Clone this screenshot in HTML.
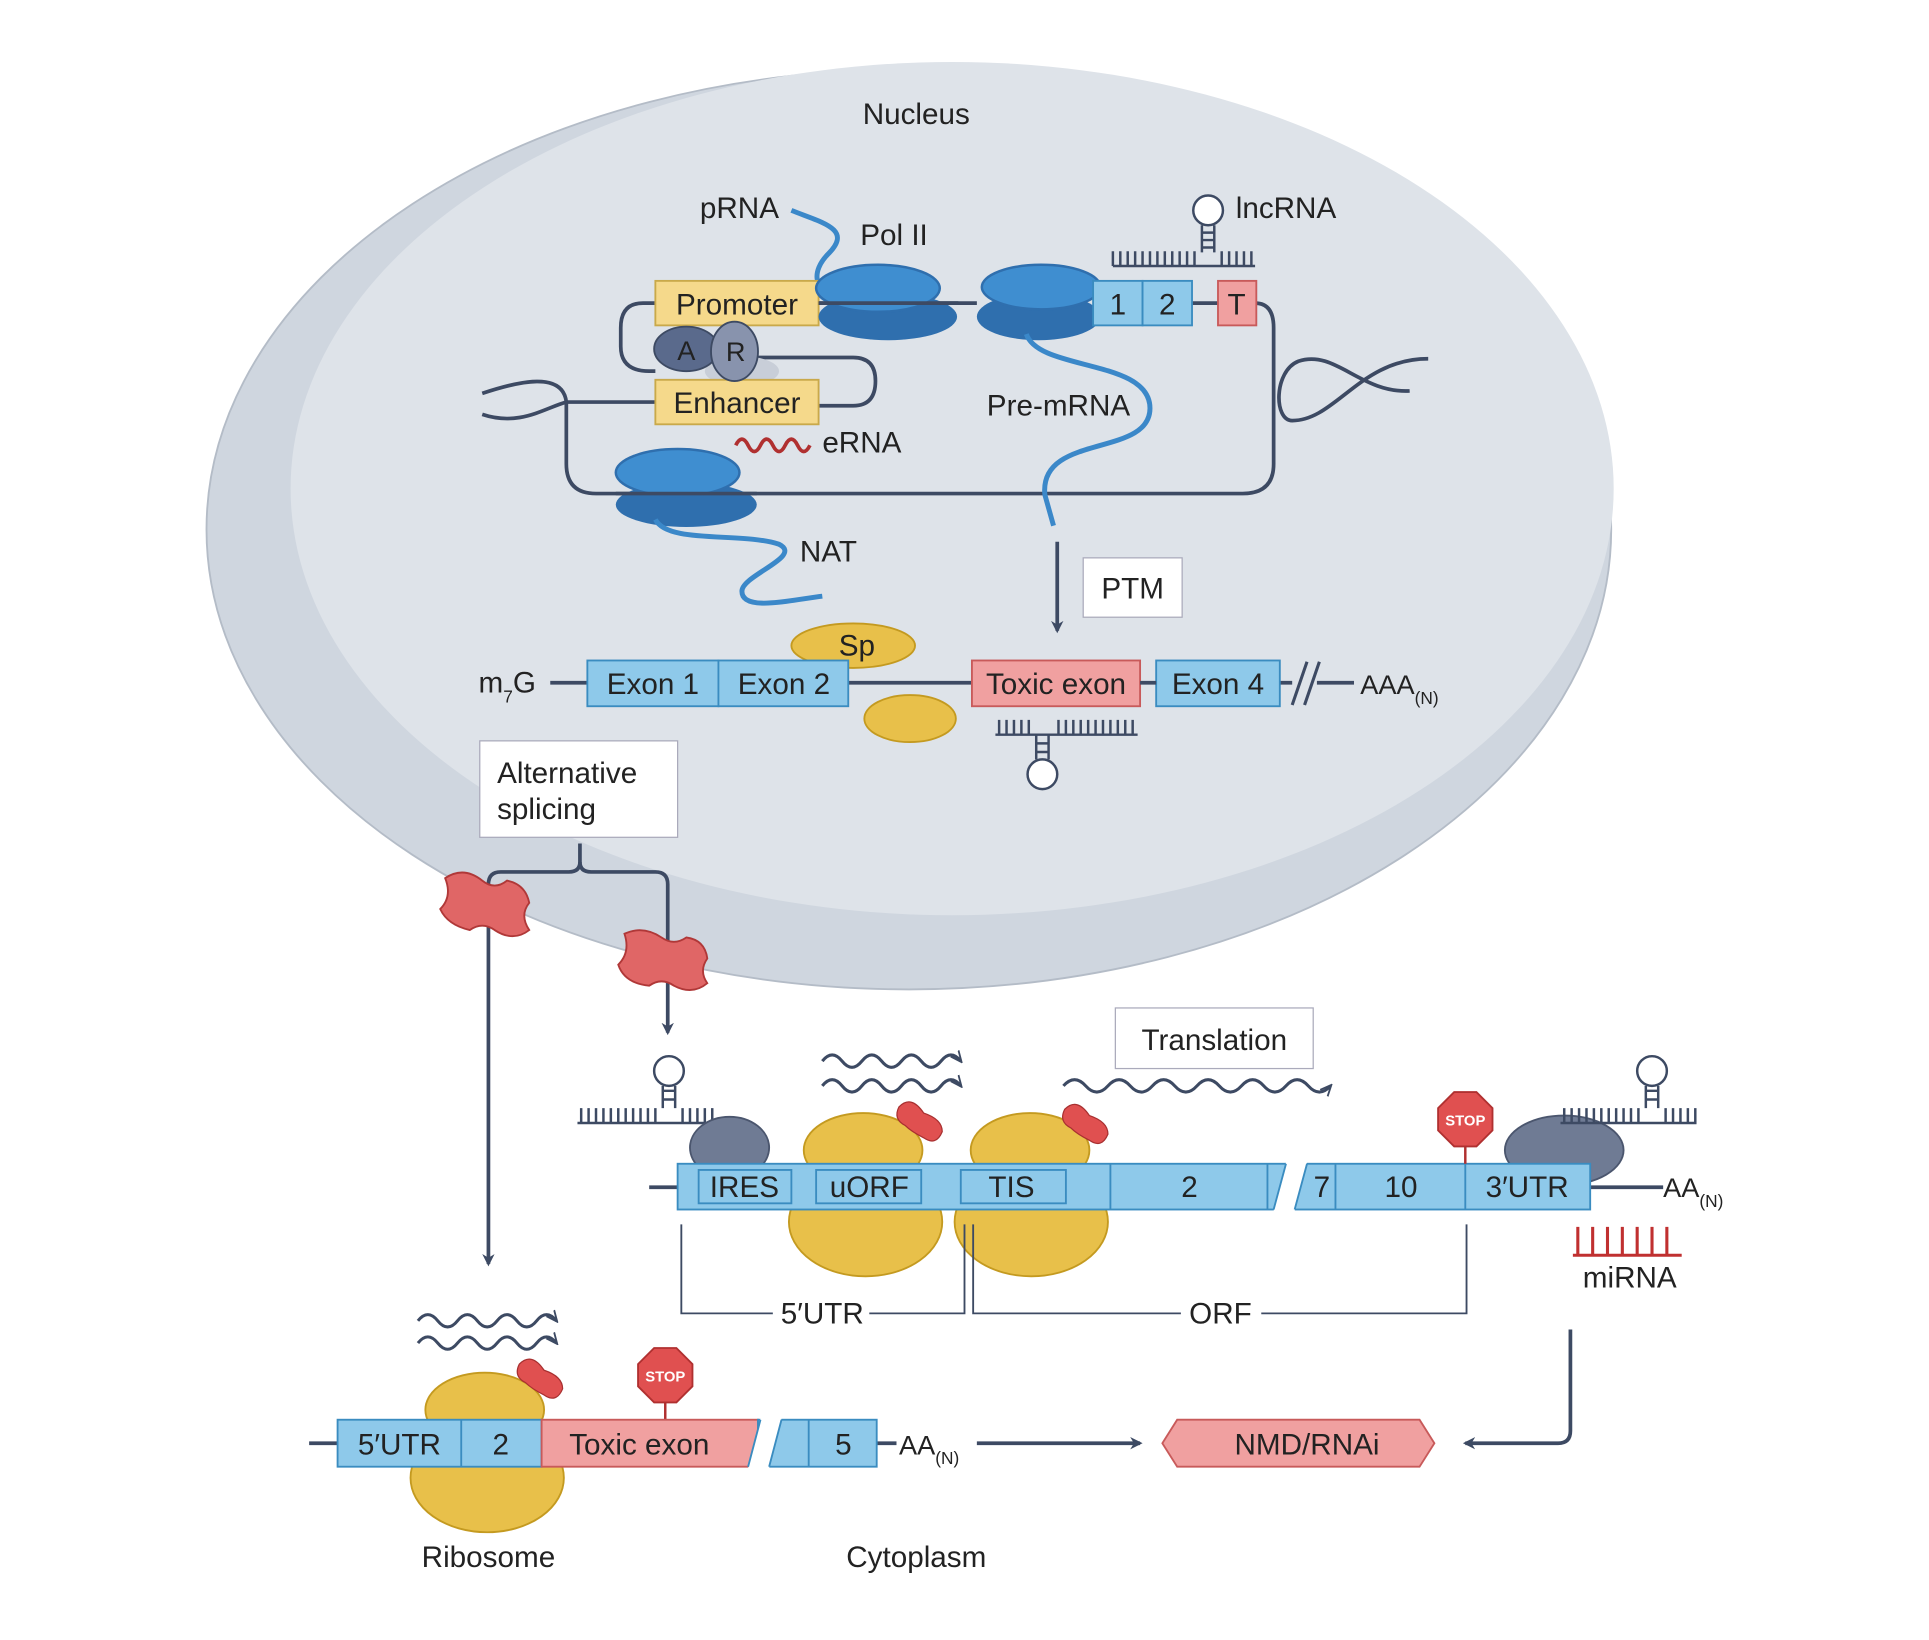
<!DOCTYPE html>
<html><head><meta charset="utf-8"><style>
html,body{margin:0;padding:0;background:#fff;}
svg{display:block;}
text{font-family:"Liberation Sans",sans-serif;fill:#222;}
</style></head><body>
<svg width="1929" height="1640" viewBox="0 0 1560 1326" xmlns="http://www.w3.org/2000/svg">
<defs>
<marker id="ar" markerWidth="10" markerHeight="10" refX="8" refY="5" orient="auto" markerUnits="userSpaceOnUse"><path d="M0,0 L10,5 L0,10 L3,5 Z" fill="#3d4a63"/></marker>
<marker id="ar2" markerWidth="10" markerHeight="10" refX="8" refY="5" orient="auto" markerUnits="userSpaceOnUse"><path d="M0,1 L9,5 L0,9" fill="none" stroke="#3d4a63" stroke-width="1.5"/></marker>
</defs>
<!-- nucleus -->
<ellipse cx="735" cy="428" rx="568" ry="372" fill="#cfd6df" stroke="#b4bcc7" stroke-width="1.5"/>
<ellipse cx="770" cy="395" rx="535" ry="345" fill="#dee3e9"/>
<text x="741" y="100" font-size="24" text-anchor="middle">Nucleus</text>

<!-- DNA loops -->
<g fill="none" stroke="#3d4a63" stroke-width="3">
<path d="M390,318 C420,308 455,300 458,325 L458,375 Q458,399 482,399 L1005,399 Q1030,399 1030,375 L1030,265 Q1030,245 1015,245"/>
<path d="M390,335 C420,345 440,330 458,325 L530,325"/>
<path d="M662,245 L790,245 M964,245 L985,245"/>
<path d="M530,245 L520,245 Q502,245 502,265 L502,280 Q502,300 525,300 L530,300"/>
<path d="M612,289 L690,289 Q708,289 708,308 Q708,328 690,328 L662,328"/>
<path d="M1155,290 C1100,290 1080,340 1045,340 C1030,340 1030,300 1050,292 C1080,282 1100,318 1140,316"/>
</g>
<!-- pRNA -->
<path d="M640,170 C665,180 690,185 670,205 C655,220 660,235 672,235" fill="none" stroke="#3b88c9" stroke-width="4"/>
<text x="598" y="176" font-size="24" text-anchor="middle">pRNA</text>
<text x="723" y="198" font-size="24" text-anchor="middle">Pol II</text>
<!-- promoter / enhancer -->
<rect x="530" y="227" width="132" height="36" fill="#f5d98b" stroke="#c9a94a" stroke-width="1.5"/>
<text x="596" y="254" font-size="24" text-anchor="middle">Promoter</text>
<ellipse cx="600" cy="300" rx="30" ry="12" fill="#c8ced8"/>
<rect x="530" y="307" width="132" height="36" fill="#f5d98b" stroke="#c9a94a" stroke-width="1.5"/>
<text x="596" y="334" font-size="24" text-anchor="middle">Enhancer</text>
<ellipse cx="555" cy="282" rx="26" ry="18" fill="#5a6a8c" stroke="#3d4a63" stroke-width="1.5"/>
<ellipse cx="594" cy="284" rx="19" ry="24" fill="#8893ad" stroke="#3d4a63" stroke-width="1.5"/>
<text x="555" y="291" font-size="22" text-anchor="middle">A</text>
<text x="595" y="292" font-size="22" text-anchor="middle">R</text>
<!-- Pol II blobs -->
<g>
<ellipse cx="718" cy="256" rx="56" ry="19" fill="#2f6fae"/><ellipse cx="710" cy="233" rx="50" ry="19" fill="#3f8ed0" stroke="#2f6fae" stroke-width="2"/>
<ellipse cx="840" cy="256" rx="50" ry="19" fill="#2f6fae"/><ellipse cx="842" cy="232" rx="48" ry="18" fill="#3f8ed0" stroke="#2f6fae" stroke-width="2"/>
<ellipse cx="555" cy="408" rx="57" ry="18" fill="#2f6fae"/><ellipse cx="548" cy="382" rx="50" ry="19" fill="#3f8ed0" stroke="#2f6fae" stroke-width="2"/>
</g>
<path d="M498,399 L612,399" stroke="#3d4a63" stroke-width="3"/>
<path d="M662,245 L775,245" stroke="#3d4a63" stroke-width="3"/>
<!-- exon 1 2 T -->
<rect x="884" y="227" width="40" height="36" fill="#8ec9ea" stroke="#3a8cc0" stroke-width="1.5"/>
<rect x="924" y="227" width="40" height="36" fill="#8ec9ea" stroke="#3a8cc0" stroke-width="1.5"/>
<rect x="985" y="227" width="31" height="36" fill="#f0a0a0" stroke="#c85a5a" stroke-width="1.5"/>
<text x="904" y="254" font-size="24" text-anchor="middle">1</text>
<text x="944" y="254" font-size="24" text-anchor="middle">2</text>
<text x="1000" y="254" font-size="24" text-anchor="middle">T</text>
<!-- lncRNA -->
<path d="M900,215 h115 M900,203v12 M906,203v12 M912,203v12 M918,203v12 M924,203v12 M930,203v12 M936,203v12 M942,203v12 M948,203v12 M954,203v12 M960,203v12 M966,203v12 M988,203v12 M994,203v12 M1000,203v12 M1006,203v12 M1012,203v12" stroke="#3d4a63" stroke-width="2"/>
<path d="M972,204 v-22 M982,204 v-22 M972,188h10M972,194h10M972,200h10" stroke="#3d4a63" stroke-width="2"/>
<circle cx="977" cy="170" r="12" fill="#fff" stroke="#3d4a63" stroke-width="2"/>
<text x="1040" y="176" font-size="24" text-anchor="middle">lncRNA</text>
<!-- Pre-mRNA -->
<path d="M830,270 C840,300 930,290 930,330 C930,370 840,350 845,400 L852,425" fill="none" stroke="#3b88c9" stroke-width="4"/>
<text x="856" y="336" font-size="24" text-anchor="middle">Pre-mRNA</text>
<!-- eRNA -->
<path d="M595,360 q5,-10 10,0 q5,10 10,0 q5,-10 10,0 q5,10 10,0 q5,-10 10,0 q5,10 10,0" fill="none" stroke="#b03030" stroke-width="3"/>
<text x="697" y="366" font-size="24" text-anchor="middle">eRNA</text>
<!-- NAT -->
<path d="M530,420 C540,440 600,430 630,440 C650,450 600,465 600,478 C600,495 640,485 665,482" fill="none" stroke="#3b88c9" stroke-width="4"/>
<text x="670" y="454" font-size="24" text-anchor="middle">NAT</text>
<!-- PTM -->
<path d="M855,438 L855,510" stroke="#3d4a63" stroke-width="3" marker-end="url(#ar)"/>
<rect x="876" y="451" width="80" height="48" fill="#fff" stroke="#aab"/>
<text x="916" y="484" font-size="24" text-anchor="middle">PTM</text>
<!-- middle row -->
<text x="387" y="560" font-size="24">m<tspan font-size="14" dy="8">7</tspan><tspan dy="-8">G</tspan></text>
<path d="M445,552 H475 M686,552 H786 M1035,552 H1095" stroke="#3d4a63" stroke-width="3"/>
<ellipse cx="690" cy="522" rx="50" ry="18" fill="#e8c04a" stroke="#c49a20" stroke-width="1.5"/>
<text x="693" y="530" font-size="24" text-anchor="middle">Sp</text>
<ellipse cx="736" cy="581" rx="37" ry="19" fill="#e8c04a" stroke="#c49a20" stroke-width="1.5"/>
<rect x="475" y="534" width="106" height="37" fill="#8ec9ea" stroke="#3a8cc0" stroke-width="1.5"/>
<rect x="581" y="534" width="105" height="37" fill="#8ec9ea" stroke="#3a8cc0" stroke-width="1.5"/>
<rect x="786" y="534" width="136" height="37" fill="#f0a0a0" stroke="#c85a5a" stroke-width="1.5"/>
<rect x="935" y="534" width="100" height="37" fill="#8ec9ea" stroke="#3a8cc0" stroke-width="1.5"/>
<path d="M922,552H935" stroke="#3d4a63" stroke-width="3"/>
<text x="528" y="561" font-size="24" text-anchor="middle">Exon 1</text>
<text x="634" y="561" font-size="24" text-anchor="middle">Exon 2</text>
<text x="854" y="561" font-size="24" text-anchor="middle">Toxic exon</text>
<text x="985" y="561" font-size="24" text-anchor="middle">Exon 4</text>
<rect x="1045" y="535" width="20" height="34" fill="#dee3e9"/>
<path d="M1045,570 L1057,535 M1055,570 L1067,535" stroke="#3d4a63" stroke-width="2.5"/>
<text x="1100" y="561" font-size="22" font-family="Liberation Serif">AAA<tspan font-size="14" dy="8" font-family="Liberation Sans">(N)</tspan></text>
<!-- hairpin under toxic -->
<path d="M805,594 h115 M808,582v12 M814,582v12 M820,582v12 M826,582v12 M832,582v12 M856,582v12 M862,582v12 M868,582v12 M874,582v12 M880,582v12 M886,582v12 M892,582v12 M898,582v12 M904,582v12 M910,582v12 M916,582v12" stroke="#3d4a63" stroke-width="2"/>
<path d="M838,594 v20 M848,594 v20 M838,601h10M838,608h10" stroke="#3d4a63" stroke-width="2"/>
<circle cx="843" cy="626" r="12" fill="#fff" stroke="#3d4a63" stroke-width="2"/>
<!-- alternative splicing -->
<rect x="388" y="599" width="160" height="78" fill="#fff" stroke="#aab"/>
<text x="402" y="633" font-size="24">Alternative</text>
<text x="402" y="662" font-size="24">splicing</text>
<path d="M469,682 L469,697 Q469,705 460,705 L405,705 Q395,705 395,715 L395,1022" fill="none" stroke="#3d4a63" stroke-width="3" marker-end="url(#ar)"/>
<path d="M469,697 Q469,705 478,705 L530,705 Q540,705 540,715 L540,835" fill="none" stroke="#3d4a63" stroke-width="3" marker-end="url(#ar)"/>
<!-- pores -->
<g fill="#e06666" stroke="#b03838" stroke-width="1.5">
<path d="M360,710 Q375,700 390,712 Q400,720 410,712 Q425,715 428,730 Q420,740 428,752 Q415,762 400,752 Q390,745 380,752 Q362,748 356,735 Q366,725 360,710Z" />
<path d="M505,755 Q520,748 535,758 Q545,765 555,758 Q570,760 572,775 Q565,785 572,795 Q560,805 545,797 Q535,790 525,797 Q505,795 500,780 Q510,770 505,755Z"/>
</g>
<!-- translation -->
<rect x="902" y="815" width="160" height="49" fill="#fff" stroke="#aab"/>
<text x="982" y="849" font-size="24" text-anchor="middle">Translation</text>
<g fill="none" stroke="#3d4a63" stroke-width="2.5">
<path d="M665,858 q8,-10 16,0 q8,10 16,0 q8,-10 16,0 q8,10 16,0 q8,-10 16,0 q8,10 16,0 q8,-10 16,0" marker-end="url(#ar2)"/>
<path d="M665,878 q8,-10 16,0 q8,10 16,0 q8,-10 16,0 q8,10 16,0 q8,-10 16,0 q8,10 16,0 q8,-10 16,0" marker-end="url(#ar2)"/>
<path d="M860,878 q9,-10 18,0 q9,10 18,0 q9,-10 18,0 q9,10 18,0 q9,-10 18,0 q9,10 18,0 q9,-10 18,0 q9,10 18,0 q9,-10 18,0 q9,10 18,0 q9,-10 18,0 q9,10 18,0" marker-end="url(#ar2)"/>
<path d="M338,1068 q8,-10 16,0 q8,10 16,0 q8,-10 16,0 q8,10 16,0 q8,-10 16,0 q8,10 16,0 q8,-10 16,0" marker-end="url(#ar2)"/>
<path d="M338,1086 q8,-10 16,0 q8,10 16,0 q8,-10 16,0 q8,10 16,0 q8,-10 16,0 q8,10 16,0 q8,-10 16,0" marker-end="url(#ar2)"/>
</g>
<!-- hairpins translation -->
<path d="M467,908 h110 M470,896v12 M476,896v12 M482,896v12 M488,896v12 M494,896v12 M500,896v12 M506,896v12 M512,896v12 M518,896v12 M524,896v12 M530,896v12 M552,896v12 M558,896v12 M564,896v12 M570,896v12 M576,896v12" stroke="#3d4a63" stroke-width="2"/>
<path d="M536,896 v-18 M546,896 v-18 M536,882h10M536,889h10" stroke="#3d4a63" stroke-width="2"/>
<circle cx="541" cy="866" r="12" fill="#fff" stroke="#3d4a63" stroke-width="2"/>
<ellipse cx="590" cy="928" rx="32" ry="25" fill="#6f7b94" stroke="#4b566e" stroke-width="1.5"/>
<ellipse cx="1265" cy="930" rx="48" ry="28" fill="#6f7b94" stroke="#4b566e" stroke-width="1.5"/>
<path d="M1262,908 h110 M1265,896v12 M1271,896v12 M1277,896v12 M1283,896v12 M1289,896v12 M1295,896v12 M1301,896v12 M1307,896v12 M1313,896v12 M1319,896v12 M1325,896v12 M1347,896v12 M1353,896v12 M1359,896v12 M1365,896v12 M1371,896v12" stroke="#3d4a63" stroke-width="2"/>
<path d="M1331,896 v-18 M1341,896 v-18 M1331,882h10M1331,889h10" stroke="#3d4a63" stroke-width="2"/>
<circle cx="1336" cy="866" r="12" fill="#fff" stroke="#3d4a63" stroke-width="2"/>
<!-- ribosomes top -->
<g stroke="#c49a20" stroke-width="1.5" fill="#e8c04a">
<ellipse cx="700" cy="988" rx="62" ry="44"/><ellipse cx="698" cy="930" rx="48" ry="30"/>
<ellipse cx="834" cy="988" rx="62" ry="44"/><ellipse cx="833" cy="930" rx="48" ry="30"/>
<ellipse cx="394" cy="1195" rx="62" ry="44"/><ellipse cx="392" cy="1140" rx="48" ry="30"/>
</g>
<g fill="#e05050" stroke="#a83030" stroke-width="1">
<path d="M727,895 q10,-10 20,5 q15,5 15,15 q-5,12 -15,5 q-10,-5 -15,-10 q-10,-5 -5,-15z"/>
<path d="M861,897 q10,-10 20,5 q15,5 15,15 q-5,12 -15,5 q-10,-5 -15,-10 q-10,-5 -5,-15z"/>
<path d="M420,1103 q10,-10 20,5 q15,5 15,15 q-5,12 -15,5 q-10,-5 -15,-10 q-10,-5 -5,-15z"/>
</g>
<!-- mRNA row -->
<path d="M525,960 H548 M1286,960 H1345" stroke="#3d4a63" stroke-width="3"/>
<rect x="548" y="941" width="738" height="37" fill="#8ec9ea" stroke="#3a8cc0" stroke-width="1.5"/>
<rect x="565" y="946" width="75" height="27" fill="none" stroke="#3a8cc0" stroke-width="1.5"/>
<rect x="660" y="946" width="85" height="27" fill="none" stroke="#3a8cc0" stroke-width="1.5"/>
<rect x="777" y="946" width="85" height="27" fill="none" stroke="#3a8cc0" stroke-width="1.5"/>
<path d="M898,941v37 M1025,941v37 M1080,941v37 M1185,941v37" stroke="#3a8cc0" stroke-width="1.5"/>
<polygon points="1040,940 1057,940 1047,979 1030,979" fill="#fff"/>
<path d="M1040,941 L1030,978 M1057,941 L1047,978" stroke="#3a8cc0" stroke-width="1.5"/>
<text x="602" y="968" font-size="24" text-anchor="middle">IRES</text>
<text x="703" y="968" font-size="24" text-anchor="middle">uORF</text>
<text x="818" y="968" font-size="24" text-anchor="middle">TIS</text>
<text x="962" y="968" font-size="24" text-anchor="middle">2</text>
<text x="1069" y="968" font-size="24" text-anchor="middle">7</text>
<text x="1133" y="968" font-size="24" text-anchor="middle">10</text>
<text x="1235" y="968" font-size="24" text-anchor="middle">3′UTR</text>
<text x="1345" y="968" font-size="22" font-family="Liberation Serif">AA<tspan font-size="14" dy="8" font-family="Liberation Sans">(N)</tspan></text>
<!-- STOP -->
<g>
<path d="M1185,922 V941" stroke="#b03030" stroke-width="2"/>
<polygon points="1176,883 1194,883 1207,896 1207,914 1194,927 1176,927 1163,914 1163,896" fill="#e05050" stroke="#b03030" stroke-width="1.5"/>
<text x="1185" y="910" font-size="12" text-anchor="middle" style="fill:#fff;font-weight:bold">STOP</text>
<path d="M538,1133 V1148" stroke="#b03030" stroke-width="2"/>
<polygon points="529,1090 547,1090 560,1103 560,1121 547,1134 529,1134 516,1121 516,1103" fill="#e05050" stroke="#b03030" stroke-width="1.5"/>
<text x="538" y="1117" font-size="12" text-anchor="middle" style="fill:#fff;font-weight:bold">STOP</text>
</g>
<!-- brackets -->
<path d="M551,990 V1062 H625 M703,1062 H780 V990 M787,990 V1062 H955 M1020,1062 H1186 V990" fill="none" stroke="#3d4a63" stroke-width="1.5"/>
<text x="665" y="1070" font-size="24" text-anchor="middle">5′UTR</text>
<text x="987" y="1070" font-size="24" text-anchor="middle">ORF</text>
<!-- miRNA -->
<path d="M1272,1015 H1360 M1276,992v23 M1288,992v23 M1300,992v23 M1312,992v23 M1324,992v23 M1336,992v23 M1348,992v23" stroke="#c03030" stroke-width="2.5"/>
<text x="1318" y="1041" font-size="24" text-anchor="middle">miRNA</text>
<path d="M1270,1075 V1157 Q1270,1167 1260,1167 L1185,1167" fill="none" stroke="#3d4a63" stroke-width="3" marker-end="url(#ar)"/>
<!-- NMD -->
<polygon points="952,1148 1148,1148 1160,1167 1148,1186 952,1186 940,1167" fill="#f0a0a0" stroke="#c85a5a" stroke-width="1.5"/>
<text x="1057" y="1176" font-size="24" text-anchor="middle">NMD/RNAi</text>
<!-- bottom row -->
<path d="M250,1167 H273 M709,1167 H725" stroke="#3d4a63" stroke-width="3"/>
<rect x="273" y="1148" width="165" height="38" fill="#8ec9ea" stroke="#3a8cc0" stroke-width="1.5"/>
<path d="M373,1148v38" stroke="#3a8cc0" stroke-width="1.5"/>
<rect x="438" y="1148" width="175" height="38" fill="#f0a0a0" stroke="#c85a5a" stroke-width="1.5"/>
<rect x="613" y="1148" width="96" height="38" fill="#8ec9ea" stroke="#3a8cc0" stroke-width="1.5"/>
<path d="M654,1148v38" stroke="#3a8cc0" stroke-width="1.5"/>
<polygon points="615,1147 632,1147 622,1187 605,1187" fill="#fff"/>
<path d="M615,1148 L605,1186 M632,1148 L622,1186" stroke="#3a8cc0" stroke-width="1.5"/>
<text x="323" y="1176" font-size="24" text-anchor="middle">5′UTR</text>
<text x="405" y="1176" font-size="24" text-anchor="middle">2</text>
<text x="517" y="1176" font-size="24" text-anchor="middle">Toxic exon</text>
<text x="682" y="1176" font-size="24" text-anchor="middle">5</text>
<text x="727" y="1176" font-size="22" font-family="Liberation Serif">AA<tspan font-size="14" dy="8" font-family="Liberation Sans">(N)</tspan></text>
<path d="M790,1167 L922,1167" stroke="#3d4a63" stroke-width="3" marker-end="url(#ar)"/>
<text x="395" y="1267" font-size="24" text-anchor="middle">Ribosome</text>
<text x="741" y="1267" font-size="24" text-anchor="middle">Cytoplasm</text>
</svg>
</body></html>
